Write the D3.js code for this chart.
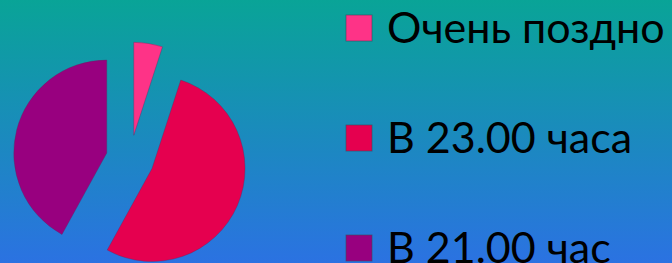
<!DOCTYPE html>
<html>
<head>
<meta charset="utf-8">
<script src="https://cdnjs.cloudflare.com/ajax/libs/d3/7.8.5/d3.min.js"></script>
<style>
  html, body { margin: 0; padding: 0; overflow: hidden; }
  svg { display: block; }
</style>
</head>
<body>
<div class="chart"></div>
<script>
var svgWidth = 672;
var svgHeight = 263;

// data
var categories = ["Очень поздно", "В 23.00 часа", "В 21.00 час"];
var shares = [5, 53, 42];
var colors = ["#fe3387", "#e5004f", "#98007f"];

var pieCenter = { x: 130, y: 159 };
var radius = 93;
var explode = 24;

var svg = d3.select(".chart")
  .append("svg")
  .attr("width", svgWidth)
  .attr("height", svgHeight);

// background gradient
var grad = svg.append("defs").append("linearGradient")
  .attr("id", "bg")
  .attr("x1", 0).attr("y1", 0)
  .attr("x2", 0).attr("y2", 1);
grad.append("stop").attr("offset", "0%").attr("stop-color", "#09a497");
grad.append("stop").attr("offset", "100%").attr("stop-color", "#2b72e2");

svg.append("rect")
  .attr("width", svgWidth)
  .attr("height", svgHeight)
  .attr("fill", "url(#bg)");

var pieData = shares.map(function(v, i) {
  return { name: categories[i], value: v, color: colors[i] };
});

var pie = d3.pie()
  .sort(null)
  .value(d => d.value);

var arc = d3.arc()
  .innerRadius(0)
  .outerRadius(radius);

var chartGroup = svg.append("g")
  .attr("transform", `translate(${pieCenter.x}, ${pieCenter.y})`);

chartGroup.selectAll("path")
  .data(pie(pieData))
  .enter()
  .append("path")
  .attr("d", arc)
  .attr("transform", function(d) {
    var a = (d.startAngle + d.endAngle) / 2;
    return `translate(${Math.sin(a) * explode}, ${-Math.cos(a) * explode})`;
  })
  .attr("fill", d => d.data.color)
  .attr("stroke", "#5a2a5a")
  .attr("stroke-opacity", 0.35)
  .attr("stroke-width", 1);

// legend (the last row runs off the bottom edge, as in the original slide)
var legendX = 346;
var legendY = d3.scalePoint()
  .domain(categories)
  .range([15, 235]);

var legend = svg.append("g");

var items = legend.selectAll("g")
  .data(pieData)
  .enter()
  .append("g")
  .attr("transform", d => `translate(${legendX}, ${legendY(d.name)})`);

items.append("rect")
  .attr("width", 26)
  .attr("height", 26)
  .attr("fill", d => d.color)
  .attr("stroke", "#3d4a5a")
  .attr("stroke-opacity", 0.6)
  .attr("stroke-width", 1);

items.append("text")
  .attr("x", 41)
  .attr("y", 28)
  .attr("font-family", "Lato, 'Open Sans', sans-serif")
  .attr("font-size", 43)
  .attr("fill", "#000")
  .text(d => d.name);
</script>
</body>
</html>
